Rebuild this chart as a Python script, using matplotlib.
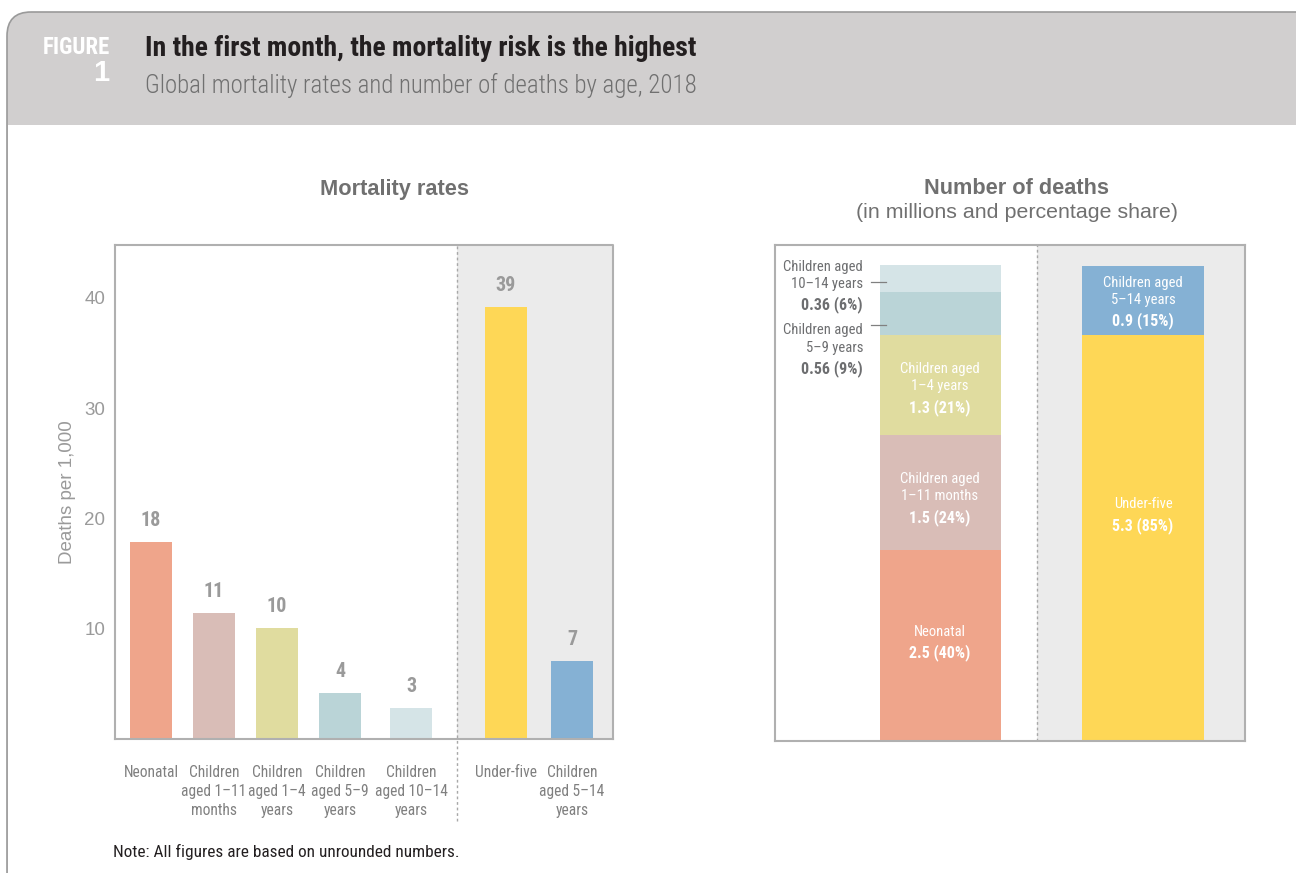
import matplotlib.pyplot as plt
from matplotlib.patches import FancyBboxPatch, Rectangle

# Mortality rates (deaths per 1,000)
rate_labels = ['Neonatal', 'Children\naged 1–11\nmonths', 'Children\naged 1–4\nyears',
               'Children\naged 5–9\nyears', 'Children\naged 10–14\nyears',
               'Under-five', 'Children\naged 5–14\nyears']
rate_values = [17.9, 11.4, 10.1, 4.2, 2.8, 39.2, 7.1]
rate_text = ['18', '11', '10', '4', '3', '39', '7']

# Number of deaths (millions) and percentage share
stack_names = ['Neonatal', 'Children aged\n1–11 months', 'Children aged\n1–4 years',
               'Children aged\n5–9 years', 'Children aged\n10–14 years']
stack_values = [2.5, 1.5, 1.3, 0.56, 0.36]
stack_share = [40, 24, 21, 9, 6]
group_names = ['Under-five', 'Children aged\n5–14 years']
group_values = [5.3, 0.9]
group_share = [85, 15]

c_neo = '#EFA58B'
c_m = '#D9BDB7'
c_14 = '#E0DC9F'
c_59 = '#BAD4D7'
c_1014 = '#D5E4E7'
c_u5 = '#FED756'
c_514 = '#85B1D4'
rate_colors = [c_neo, c_m, c_14, c_59, c_1014, c_u5, c_514]
stack_colors = [c_neo, c_m, c_14, c_59, c_1014]
group_colors = [c_u5, c_514]

NARROW = ['Roboto Condensed', 'IBM Plex Sans Condensed', 'DejaVu Sans']
REG = ['Liberation Sans', 'Arimo', 'DejaVu Sans']
W, H = 1296, 873

fig = plt.figure(figsize=(W / 100, H / 100), dpi=100)


def px_rect(x0, y0, x1, y1):
    return [x0 / W, 1 - y1 / H, (x1 - x0) / W, (y1 - y0) / H]


# background card in pixel coords
bg = fig.add_axes([0, 0, 1, 1])
bg.set_xlim(0, W)
bg.set_ylim(H, 0)
bg.axis('off')
bg.add_patch(FancyBboxPatch((7, 12), 1400, 1000, boxstyle='round,pad=0,rounding_size=24',
                            facecolor='#D1CFCF', edgecolor='none'))
bg.add_patch(Rectangle((8, 125), 1400, 1000, facecolor='white', edgecolor='none'))
bg.add_patch(FancyBboxPatch((7, 12), 1400, 1000, boxstyle='round,pad=0,rounding_size=24',
                            facecolor='none', edgecolor='#9A9A9A', linewidth=1.2))
bg.text(110, 47, 'FIGURE', color='white', fontsize=16.5, fontweight='bold', family=NARROW,
        ha='right', va='center')
bg.text(109, 73, '1', color='white', fontsize=21, fontweight='bold', family=REG,
        ha='right', va='center')
bg.text(145, 49, 'In the first month, the mortality risk is the highest', color='#231F20',
        fontsize=20, fontweight='bold', family=NARROW, va='center')
bg.text(145, 85, 'Global mortality rates and number of deaths by age, 2018', color='#707070',
        fontsize=17.9, fontweight='light', family=NARROW, va='center')
bg.text(395, 189, 'Mortality rates', color='#707070', fontsize=15.7, fontweight='bold',
        family=REG, ha='center', va='center')
bg.text(1017, 189, 'Number of deaths', color='#707070', fontsize=15.7, fontweight='bold',
        family=REG, ha='center', va='center')
bg.text(1017, 213, '(in millions and percentage share)', color='#707070', fontsize=15.4,
        family=REG, ha='center', va='center')
bg.text(113, 852, 'Note: All figures are based on unrounded numbers.', color='#231F20',
        fontsize=12.4, family=NARROW, va='center')

# ---- left chart: mortality rates
xpos = [0, 1, 2, 3, 4.13, 5.63, 6.68]
ax = fig.add_axes(px_rect(115, 245, 613, 739))
ax.set_xlim(-0.571, 7.33)
ax.set_ylim(0, 44.8)
ax.axvspan(4.86, 7.33, color='#EBEBEB', zorder=0, lw=0)
ax.bar(xpos, rate_values, width=0.667, color=rate_colors, zorder=2)
for x, v, t in zip(xpos, rate_values, rate_text):
    ax.annotate(t, (x, v), xytext=(0, 12), textcoords='offset pixels', ha='center',
                va='bottom', fontsize=14.5, fontweight='bold', color='#9A9A9A', family=NARROW)
ax.plot([4.86, 4.86], [-7.4, 44.8], ls=(0, (2, 2)), color='#A8A8A8', lw=1, clip_on=False,
        zorder=3)
ax.set_xticks(xpos)
ax.set_xticklabels(rate_labels, family=NARROW, fontsize=11.2, color='#808080',
                   linespacing=1.3, va='top')
ax.set_yticks([10, 20, 30, 40])
ax.set_yticklabels(['10', '20', '30', '40'], family=REG, fontsize=13.5, color='#9A9A9A')
ax.tick_params(length=0, pad=7)
ax.tick_params(axis='x', pad=19)
ax.set_ylabel('Deaths per 1,000', family=REG, fontsize=13.5, color='#9A9A9A', labelpad=6)
for s in ['top', 'right']:
    ax.spines[s].set_visible(False)
for s in ['left', 'bottom']:
    ax.spines[s].set_color('#B0B0B0')
    ax.spines[s].set_linewidth(1.5)
ax.plot([-0.571, 7.33, 7.33], [44.8, 44.8, 0], color='#B0B0B0', lw=1.5, clip_on=False)

# ---- right chart: number of deaths
ax2 = fig.add_axes(px_rect(775, 245, 1245, 741))
ax2.set_xlim(-0.813, 1.502)
ax2.set_ylim(0, 6.48)
ax2.axvspan(0.478, 1.502, color='#EBEBEB', zorder=0, lw=0)
ax2.axvline(0.478, ls=(0, (2, 2)), color='#A8A8A8', lw=1, zorder=1)
bottom = 0
mids = []
for v, c in zip(stack_values, stack_colors):
    ax2.bar(0, v, bottom=bottom, width=0.596, color=c, zorder=2)
    mids.append(bottom + v / 2)
    bottom += v
gbottom = 0
gmids = []
for v, c in zip(group_values, group_colors):
    ax2.bar(1, v, bottom=gbottom, width=0.6, color=c, zorder=2)
    gmids.append(gbottom + v / 2)
    gbottom += v


def seg_label(x, y, name, val, share, name_dy, val_dy, color='white', ha='center'):
    # offsets are in pixels, downward positive
    ax2.annotate(name, (x, y), xytext=(0, -name_dy), textcoords='offset pixels',
                 ha=ha, va='center', fontsize=10.5, color=color, family=NARROW,
                 linespacing=1.3, multialignment=ha)
    ax2.annotate(f'{val:g} ({share}%)', (x, y), xytext=(0, -val_dy),
                 textcoords='offset pixels', ha=ha, va='center', fontsize=11.5,
                 fontweight='bold', color=color, family=NARROW)


seg_label(0, mids[0], stack_names[0], stack_values[0], stack_share[0], -13, 7)
seg_label(0, mids[1], stack_names[1], stack_values[1], stack_share[1], -5, 25)
seg_label(0, mids[2], stack_names[2], stack_values[2], stack_share[2], -7.5, 22)
seg_label(1, gmids[0], group_names[0], group_values[0], group_share[0], -34, -13)
seg_label(1, gmids[1], group_names[1], group_values[1], group_share[1], -9.5, 20)

# outside labels for the two small segments, with short leader lines
units_per_px = 6.48 / 496
outside = [(4, -3.5, 26, 3), (3, 25, 55, 11)]
for i, name_dy, val_dy, line_dy in outside:
    y = mids[i]
    ly = y - line_dy * units_per_px
    ax2.plot([-0.338, -0.268], [ly, ly], color='#808080', lw=0.9, zorder=3, clip_on=False)
    seg_label(-0.379, y, stack_names[i], stack_values[i], stack_share[i], name_dy, val_dy,
              color='#6D6E70', ha='right')

ax2.set_xticks([])
ax2.set_yticks([])
for s in ax2.spines.values():
    s.set_color('#B0B0B0')
    s.set_linewidth(1.5)

fig.savefig('out.png', dpi=100)
